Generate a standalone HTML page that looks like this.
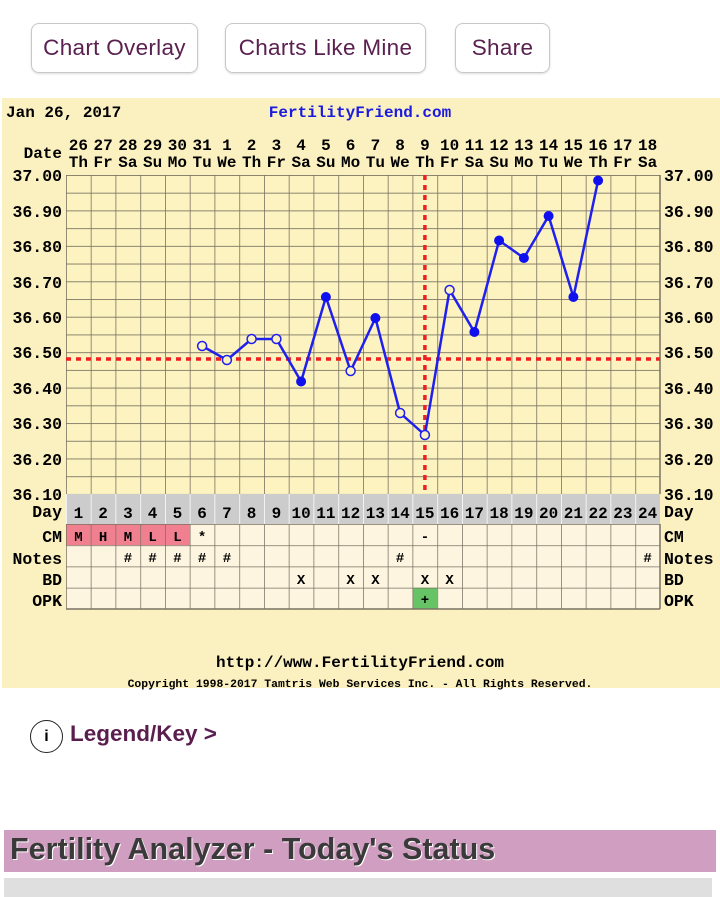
<!DOCTYPE html>
<html><head><meta charset="utf-8"><style>
body{margin:0;width:720px;height:897px;background:#fff;position:relative;overflow:hidden;font-family:"Liberation Sans",sans-serif}
.btn{position:absolute;top:23px;height:48px;border:1.5px solid #c8c8c8;border-radius:8px;color:#5a2050;font-size:22.5px;line-height:48px;text-align:center;box-shadow:0 1px 2px #ddd;letter-spacing:0.3px}
svg text{font-family:"Liberation Mono",monospace;font-weight:bold}
</style></head><body>
<div class="btn" style="left:31px;width:165px">Chart Overlay</div>
<div class="btn" style="left:225px;width:199px">Charts Like Mine</div>
<div class="btn" style="left:455px;width:93px">Share</div>

<svg style="position:absolute;left:0;top:0" width="720" height="700">
<defs>
<pattern id="g" x="66" y="175" width="24.75" height="17.72" patternUnits="userSpaceOnUse">
<path d="M0 0V17.72M0 0H24.75" stroke="#7a7262" stroke-width="1.6" fill="none"/></pattern>
<pattern id="g2" x="66" y="524" width="24.75" height="21.25" patternUnits="userSpaceOnUse">
<path d="M0 0V21.25M0 0H24.75" stroke="#7a7262" stroke-width="1.5" fill="none"/></pattern>
<pattern id="g3" x="66" y="494" width="24.75" height="30" patternUnits="userSpaceOnUse">
<path d="M0 0V30" stroke="#ffffff" stroke-width="1.5" fill="none"/></pattern>
</defs>
<rect x="2" y="98" width="718" height="590" fill="#fbf0c0"/>
<rect x="66" y="175" width="594" height="319" fill="#fcf3c0"/>
<rect x="66" y="175" width="594" height="319" fill="url(#g)"/>
<rect x="66" y="494" width="594" height="30" fill="#cccccc"/>
<rect x="66" y="494" width="594" height="30" fill="url(#g3)"/>
<rect x="66" y="524" width="594" height="85" fill="#fdf5e0"/>
<rect x="66" y="524" width="123.75" height="21.25" fill="#f08090"/>
<rect x="412.5" y="587.75" width="24.75" height="21.25" fill="#66c466"/>
<rect x="66" y="524" width="594" height="85" fill="url(#g2)"/>
<path d="M66 609H660M660 524V609M660 175V494" stroke="#7a7262" stroke-width="1.5"/>
<text x="6" y="117" font-size="16">Jan 26, 2017</text>
<text x="360" y="117" font-size="16" fill="#1a1ae0" text-anchor="middle">FertilityFriend.com</text>
<text x="62" y="158" font-size="16" text-anchor="end">Date</text>
<g font-size="16" text-anchor="middle">
<text y="150"><tspan x="78.4">26</tspan><tspan x="103.1">27</tspan><tspan x="127.9">28</tspan><tspan x="152.6">29</tspan><tspan x="177.4">30</tspan><tspan x="202.1">31</tspan><tspan x="226.9">1</tspan><tspan x="251.6">2</tspan><tspan x="276.4">3</tspan><tspan x="301.1">4</tspan><tspan x="325.9">5</tspan><tspan x="350.6">6</tspan><tspan x="375.4">7</tspan><tspan x="400.1">8</tspan><tspan x="424.9">9</tspan><tspan x="449.6">10</tspan><tspan x="474.4">11</tspan><tspan x="499.1">12</tspan><tspan x="523.9">13</tspan><tspan x="548.6">14</tspan><tspan x="573.4">15</tspan><tspan x="598.1">16</tspan><tspan x="622.9">17</tspan><tspan x="647.6">18</tspan></text>
<text y="167"><tspan x="78.4">Th</tspan><tspan x="103.1">Fr</tspan><tspan x="127.9">Sa</tspan><tspan x="152.6">Su</tspan><tspan x="177.4">Mo</tspan><tspan x="202.1">Tu</tspan><tspan x="226.9">We</tspan><tspan x="251.6">Th</tspan><tspan x="276.4">Fr</tspan><tspan x="301.1">Sa</tspan><tspan x="325.9">Su</tspan><tspan x="350.6">Mo</tspan><tspan x="375.4">Tu</tspan><tspan x="400.1">We</tspan><tspan x="424.9">Th</tspan><tspan x="449.6">Fr</tspan><tspan x="474.4">Sa</tspan><tspan x="499.1">Su</tspan><tspan x="523.9">Mo</tspan><tspan x="548.6">Tu</tspan><tspan x="573.4">We</tspan><tspan x="598.1">Th</tspan><tspan x="622.9">Fr</tspan><tspan x="647.6">Sa</tspan></text>
</g>
<g font-size="16.5">
<g text-anchor="end">
<text x="62" y="181">37.00</text><text x="62" y="217">36.90</text><text x="62" y="252">36.80</text><text x="62" y="288">36.70</text><text x="62" y="323">36.60</text><text x="62" y="358">36.50</text><text x="62" y="394">36.40</text><text x="62" y="429">36.30</text><text x="62" y="465">36.20</text><text x="62" y="500">36.10</text>
<text x="62" y="517">Day</text><text x="62" y="542">CM</text><text x="62" y="564">Notes</text><text x="62" y="585">BD</text><text x="62" y="606">OPK</text>
</g>
<text x="664" y="181">37.00</text><text x="664" y="217">36.90</text><text x="664" y="252">36.80</text><text x="664" y="288">36.70</text><text x="664" y="323">36.60</text><text x="664" y="358">36.50</text><text x="664" y="394">36.40</text><text x="664" y="429">36.30</text><text x="664" y="465">36.20</text><text x="664" y="500">36.10</text>
<text x="664" y="517">Day</text><text x="664" y="542">CM</text><text x="664" y="564">Notes</text><text x="664" y="585">BD</text><text x="664" y="606">OPK</text>
</g>
<g font-size="16" text-anchor="middle">
<text y="518"><tspan x="78.4">1</tspan><tspan x="103.1">2</tspan><tspan x="127.9">3</tspan><tspan x="152.6">4</tspan><tspan x="177.4">5</tspan><tspan x="202.1">6</tspan><tspan x="226.9">7</tspan><tspan x="251.6">8</tspan><tspan x="276.4">9</tspan><tspan x="301.1">10</tspan><tspan x="325.9">11</tspan><tspan x="350.6">12</tspan><tspan x="375.4">13</tspan><tspan x="400.1">14</tspan><tspan x="424.9">15</tspan><tspan x="449.6">16</tspan><tspan x="474.4">17</tspan><tspan x="499.1">18</tspan><tspan x="523.9">19</tspan><tspan x="548.6">20</tspan><tspan x="573.4">21</tspan><tspan x="598.1">22</tspan><tspan x="622.9">23</tspan><tspan x="647.6">24</tspan></text>
</g>
<g font-size="14" text-anchor="middle">
<text y="541"><tspan x="78.4">M</tspan><tspan x="103.1">H</tspan><tspan x="127.9">M</tspan><tspan x="152.6">L</tspan><tspan x="177.4">L</tspan><tspan x="202.1">*</tspan><tspan x="424.9">-</tspan></text>
<text y="562"><tspan x="127.9">#</tspan><tspan x="152.6">#</tspan><tspan x="177.4">#</tspan><tspan x="202.1">#</tspan><tspan x="226.9">#</tspan><tspan x="400.1">#</tspan><tspan x="647.6">#</tspan></text>
<text y="584" font-weight="normal"><tspan x="301.1">X</tspan><tspan x="350.6">X</tspan><tspan x="375.4">X</tspan><tspan x="424.9">X</tspan><tspan x="449.6">X</tspan></text>
<text y="604"><tspan x="424.9">+</tspan></text>
</g>
<line x1="66" y1="359" x2="660" y2="359" stroke="#ee2020" stroke-width="3.5" stroke-dasharray="5,5"/>
<line x1="424.9" y1="175" x2="424.9" y2="494" stroke="#ee2020" stroke-width="3.5" stroke-dasharray="5,5"/>
<polyline fill="none" stroke="#2020ee" stroke-width="2.5" points="202.1,346 226.9,360 251.6,339 276.4,339 301.1,381.5 325.9,297 350.6,371 375.4,318 400.1,413 424.9,435 449.6,290 474.4,332 499.1,240.5 523.9,258 548.6,216 573.4,297 598.1,180.5"/>
<g fill="#fcf3c0" stroke="#2020ee" stroke-width="1.5">
<circle cx="202.1" cy="346" r="4.5"/><circle cx="226.9" cy="360" r="4.5"/><circle cx="251.6" cy="339" r="4.5"/><circle cx="276.4" cy="339" r="4.5"/><circle cx="350.6" cy="371" r="4.5"/><circle cx="400.1" cy="413" r="4.5"/><circle cx="424.9" cy="435" r="4.5"/><circle cx="449.6" cy="290" r="4.5"/>
</g>
<g fill="#1010ee">
<circle cx="301.1" cy="381.5" r="5"/><circle cx="325.9" cy="297" r="5"/><circle cx="375.4" cy="318" r="5"/><circle cx="474.4" cy="332" r="5"/><circle cx="499.1" cy="240.5" r="5"/><circle cx="523.9" cy="258" r="5"/><circle cx="548.6" cy="216" r="5"/><circle cx="573.4" cy="297" r="5"/><circle cx="598.1" cy="180.5" r="5"/>
</g>
<text x="360" y="667" font-size="16" text-anchor="middle">http://www.FertilityFriend.com</text>
<text x="360" y="687" font-size="11.4" font-weight="normal" text-anchor="middle">Copyright 1998-2017 Tamtris Web Services Inc. - All Rights Reserved.</text>
</svg>

<div style="position:absolute;left:30px;top:720px;width:31px;height:31px;border:1.5px solid #222;border-radius:50%;text-align:center;line-height:31px;font-size:16px;font-weight:bold">i</div>
<div style="position:absolute;left:70px;top:721px;font-size:22.5px;font-weight:bold;color:#5a1e4e">Legend/Key &gt;</div>
<div style="position:absolute;left:4px;top:830px;width:712px;height:42px;background:#d09ec0"></div>
<div style="position:absolute;left:10px;top:832px;font-size:30.5px;font-weight:bold;color:#3a3a3a;text-shadow:1px 1px 0 #fff">Fertility Analyzer - Today's Status</div>
<div style="position:absolute;left:4px;top:878px;width:708px;height:19px;background:#e0dfe0"></div>
</body></html>
